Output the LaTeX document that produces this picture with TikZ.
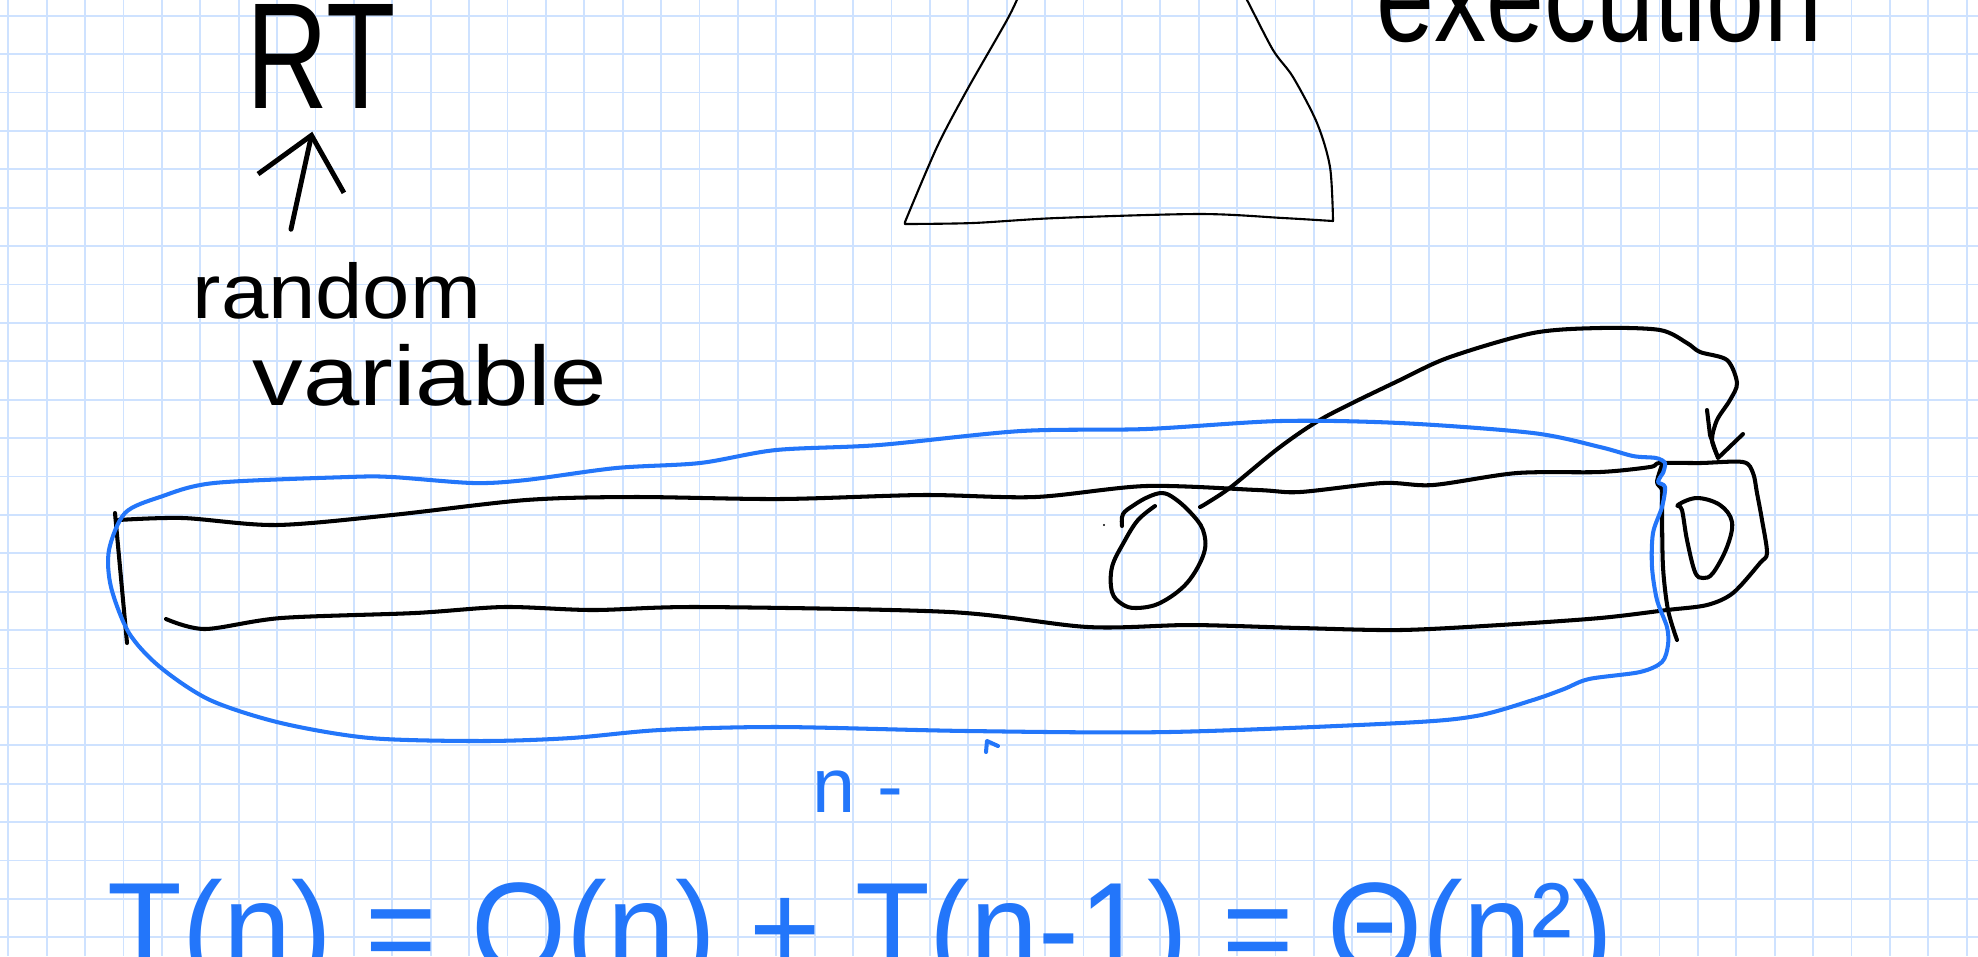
\documentclass[tikz,border=0pt]{standalone}
\usepackage{graphicx}
\usepackage{fontspec}
\setmainfont{Liberation Sans}
\usetikzlibrary{arrows.meta,calc}

\definecolor{gridblue}{RGB}{206,226,255}
\definecolor{inkblue}{RGB}{35,118,250}

\begin{document}
\begin{tikzpicture}[x=0.01cm,y=-0.01cm,
  gridline/.style={gridblue,line width=0.5pt},
  ink/.style={black,line width=1.15pt,line cap=round,line join=round},
  thinink/.style={black,line width=0.6pt,line cap=round,line join=round},
  blueink/.style={inkblue,line width=1.15pt,line cap=round,line join=round},
  hand/.style={inner sep=0pt,anchor=base west}]
\useasboundingbox (0,0) rectangle (1978,956);
\clip (0,0) rectangle (1978,956);
\fill[white] (0,0) rectangle (1978,956);
% squared paper
\foreach \k in {0,...,51} \draw[gridline] ({8.3+38.4*\k},0) -- ++(0,956);
\foreach \k in {0,...,24} \draw[gridline] (0,{15.7+38.4*\k}) -- ++(1978,0);

% labels
\node[hand,font=\fontsize{43}{43}\selectfont] (rt) at (246,108) {\scalebox{0.75}[1]{RT}};
\node[hand,font=\fontsize{22}{22}\selectfont] (rv1) at (192,318) {\scalebox{1.1}[1]{random}};
\node[hand,font=\fontsize{24}{24}\selectfont] (rv2) at (252,405) {\scalebox{1.2}[1]{variable}};
\node[hand,font=\fontsize{37}{37}\selectfont] (exec) at (1376,41) {\scalebox{0.8}[1]{execution}};
\node[hand,text=inkblue,font=\fontsize{22}{22}\selectfont] (nmark) at (812,812) {n -};
\node[hand,text=inkblue,font=\fontsize{37}{37}\selectfont] (recur) at (107,973) {\scalebox{0.94}[1]{T(n) = O(n) + T(n-1) = Θ(n²)}};

\draw[ink,line width=1.4pt,-{Straight Barb[length=14pt,width=25pt]}] ($(rv1.north)+(-46,-32)$) -- ($(rt.south)+(-9,23)$);

% tree
\draw[thinink] plot[smooth,tension=0.5] coordinates {(1019,-5) (1007,20) (967,90) (937,147) (905,222)}
  -- plot[smooth,tension=0.5] coordinates {(905,224) (973,223) (1057,218) (1200,214) (1283,218) (1333,221)}
  -- plot[smooth,tension=0.5] coordinates {(1333,220) (1330,167) (1317,123) (1293,77) (1273,50) (1247,0) (1243,-5)};

% array
\draw[ink] (115,513) -- (127,643);
\draw[ink] plot[smooth,tension=0.5] coordinates {(166,619) (205,629) (281,618) (415,613) (504,607) (593,610) (700,607) (950,612) (1088,627) (1191,625) (1300,628) (1400,630) (1500,625) (1600,618) (1667,610) (1707,605) (1733,593) (1760,563) (1767,553) (1762,520) (1757,493) (1753,473) (1743,462) (1700,463) (1660,463) (1650,467) (1600,472) (1517,473) (1433,485) (1383,483) (1300,492) (1258,490) (1146,486) (1035,497) (923,495) (780,499) (634,497) (526,500) (392,515) (276,525) (183,518) (118,520)};
\draw[ink] plot[smooth,tension=0.5] coordinates {(1662,465) (1657,482) (1662,490) (1662,507) (1663,567) (1668,610) (1677,640)};
\draw[ink] plot[smooth cycle,tension=0.6] coordinates {(1678,505) (1697,498) (1720,505) (1732,522) (1727,547) (1713,573) (1703,578) (1695,572) (1687,540) (1682,510)};
\draw[ink] plot[smooth,tension=0.6] coordinates {(1155,506) (1138,520) (1124,542) (1112,567) (1112,592) (1122,604) (1136,608) (1160,603) (1187,583) (1204,553) (1203,530) (1190,512) (1174,498) (1162,493) (1148,497) (1134,505) (1123,514) (1122,526)};
\fill (1104,525) circle (1.2);
\draw[ink] plot[smooth,tension=0.5] coordinates {(1200,507) (1207,503) (1231,487) (1280,447) (1325,417) (1400,380) (1450,357) (1533,333) (1600,328) (1660,330) (1687,343) (1700,352) (1727,360) (1737,383) (1730,400) (1717,420) (1712,440) (1718,457)};
\draw[ink] (1707,410) -- (1710,435) -- (1718,458) -- (1743,434);

% blue loop
\draw[blueink] plot[smooth,tension=0.5] coordinates {(1663,473) (1665,463) (1656,458) (1633,456) (1600,447) (1533,433) (1400,423) (1280,421) (1146,429) (1021,431) (879,445) (776,450) (700,463) (616,468) (526,480) (473,483) (392,477) (348,477) (214,483) (160,497) (125,513) (109,550) (111,587) (129,633) (160,667) (210,700) (281,723) (370,738) (482,741) (571,738) (660,730) (780,727) (968,731) (1169,732) (1400,723) (1476,716) (1533,700) (1564,689) (1589,679) (1640,672) (1662,662) (1668,645) (1667,627) (1657,600) (1652,567) (1653,533) (1662,507) (1665,487) (1658,482) (1663,473)};
\draw[blueink] (986,752) -- (987,741) -- (998,746);
\end{tikzpicture}
\end{document}
